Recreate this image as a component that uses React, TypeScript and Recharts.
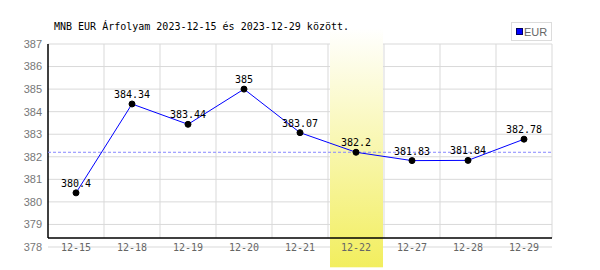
import React from 'react';
import {
  LineChart,
  Line,
  XAxis,
  YAxis,
  CartesianGrid,
  ReferenceLine,
  ReferenceArea,
  LabelList,
  Legend,
} from 'recharts';

const dates = ['12-15', '12-18', '12-19', '12-20', '12-21', '12-22', '12-27', '12-28', '12-29'];
const eurRates = [380.4, 384.34, 383.44, 385, 383.07, 382.2, 381.83, 381.84, 382.78];
const yTicks = [378, 379, 380, 381, 382, 383, 384, 385, 386, 387];
const highlightDate = '12-22';
const highlightRate = 382.2;

const Y_MIN = 378;
const Y_MAX = 387;
// the black x axis sits a bit above the lowest grid line
const AXIS_FLOOR = 378.4;

const data = dates.map((d, i) => ({ date: d, eur: eurRates[i] }));

const mono = '"DejaVu Sans Mono", monospace';
const sans = '"Liberation Sans", Arial, sans-serif';

function VerticalGridLine(props: any) {
  const { x1, y1, y2, index } = props;
  const bottom = y2 - ((y2 - y1) * (AXIS_FLOOR - Y_MIN)) / (Y_MAX - Y_MIN);
  return (
    <line
      key={`v-${index}`}
      x1={x1}
      x2={x1}
      y1={y1}
      y2={bottom}
      stroke={index === 0 ? '#000' : '#d9d9d9'}
      strokeWidth={index === 0 ? 1.5 : 1}
    />
  );
}

function XTick(props: any) {
  const { x, y, payload } = props;
  return (
    <text x={x} y={y} dy={4} textAnchor="middle" fill="#666" fontFamily={mono} fontSize={10}>
      {payload.value}
    </text>
  );
}

// the highlight band sits just inside the grid lines of its day
function DayBand(props: any) {
  const { x, y, width, height } = props;
  return <rect x={x + 2} y={y} width={width - 3} height={height} fill="url(#dayBand)" />;
}

function LegendBox() {
  return (
    <div
      style={{
        border: '1px solid #dcdcdc',
        background: '#fff',
        width: 41,
        height: 19,
        boxSizing: 'border-box',
        display: 'flex',
        alignItems: 'center',
        paddingLeft: 4,
        fontFamily: sans,
        fontSize: 11,
        color: '#666',
      }}
    >
      <span
        style={{
          display: 'inline-block',
          width: 5,
          height: 5,
          background: '#0000ff',
          border: '1px solid #000060',
          marginRight: 1,
        }}
      />
      EUR
    </div>
  );
}

export default function App() {
  return (
    <div style={{ position: 'absolute', left: 0, top: 0, width: 600, height: 270, background: '#fff' }}>
      <div
        style={{
          position: 'absolute',
          left: 54,
          top: 21,
          fontFamily: mono,
          fontSize: 10,
          lineHeight: '12px',
          color: '#000',
          whiteSpace: 'nowrap',
          zIndex: 2,
        }}
      >
        MNB EUR Árfolyam 2023-12-15 és 2023-12-29 között.
      </div>
      <LineChart width={600} height={270} data={data} margin={{ top: 44, right: 48, bottom: 0, left: 0 }}>
        <defs>
          <linearGradient id="dayBand" x1="0" y1="0" x2="0" y2="1">
            <stop offset="0%" stopColor="#ffffff" />
            <stop offset="100%" stopColor="#f2ee5e" />
          </linearGradient>
        </defs>
        <CartesianGrid
          stroke="#d9d9d9"
          horizontal={{ stroke: '#d9d9d9' }}
          vertical={VerticalGridLine}
          verticalCoordinatesGenerator={({ offset }: any) =>
            dates.map((_, i) => offset.left + (i * offset.width) / dates.length).concat(offset.left + offset.width)
          }
        />
        <XAxis
          dataKey="date"
          scale="band"
          height={23}
          axisLine={false}
          tickLine={false}
          tickSize={0}
          tickMargin={0}
          tick={<XTick />}
          interval={0}
        />
        <YAxis
          width={48}
          domain={[Y_MIN, Y_MAX]}
          ticks={yTicks}
          axisLine={false}
          tickLine={false}
          tickSize={0}
          tickMargin={6}
          interval={0}
          tick={{ fill: '#777', fontFamily: sans, fontSize: 11 }}
        />
        <ReferenceLine y={AXIS_FLOOR} stroke="#000" strokeWidth={1.5} />
        <ReferenceLine y={highlightRate} stroke="#8888ff" strokeDasharray="3 2" />
        <ReferenceArea
          x1={highlightDate}
          x2={highlightDate}
          y1={377.1}
          y2={387.7}
          ifOverflow="visible"
          shape={<DayBand />}
        />
        <Legend
          layout="vertical"
          align="center"
          verticalAlign="middle"
          wrapperStyle={{ position: 'absolute', left: 511, top: 22, width: 42 }}
          content={() => <LegendBox />}
        />
        <Line
          dataKey="eur"
          name="EUR"
          stroke="#0000ff"
          strokeWidth={1}
          dot={{ r: 3, fill: '#000', stroke: '#000', strokeWidth: 1 }}
          activeDot={false}
          isAnimationActive={false}
        >
          <LabelList dataKey="eur" position="top" offset={6} fill="#000" fontFamily={mono} fontSize={10} />
        </Line>
      </LineChart>
    </div>
  );
}
